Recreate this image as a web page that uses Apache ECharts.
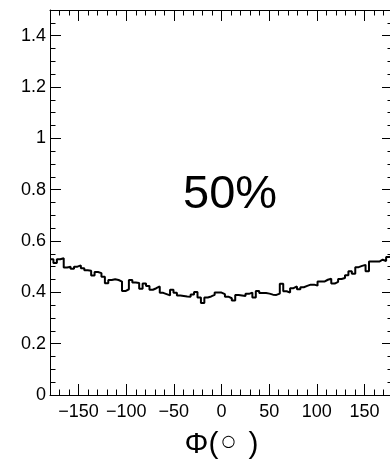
<!DOCTYPE html>
<html>
<head>
<meta charset="utf-8">
<script src="https://cdn.jsdelivr.net/npm/echarts@6/dist/echarts.min.js"></script>
<style>html,body{margin:0;padding:0;background:#fff;}#c{width:390px;height:464px;}</style>
</head>
<body>
<div id="c"></div>
<script>
const phiMin = -180;
const phiMax = 180;
const yMin = 0;
const yMax = 1.5;
const counts = [
  0.529, 0.514, 0.529, 0.533, 0.497, 0.500, 0.492, 0.500, 0.505, 0.494,
  0.486, 0.484, 0.466, 0.479, 0.475, 0.461, 0.435, 0.448, 0.451, 0.448,
  0.442, 0.405, 0.412, 0.448, 0.438, 0.436, 0.414, 0.434, 0.425, 0.410,
  0.416, 0.423, 0.398, 0.393, 0.388, 0.410, 0.398, 0.388, 0.386, 0.384,
  0.383, 0.392, 0.401, 0.380, 0.358, 0.380, 0.384, 0.390, 0.399, 0.399,
  0.393, 0.383, 0.377, 0.368, 0.390, 0.388, 0.386, 0.394, 0.399, 0.380,
  0.405, 0.397, 0.397, 0.395, 0.391, 0.390, 0.395, 0.433, 0.404, 0.399,
  0.416, 0.423, 0.412, 0.420, 0.425, 0.430, 0.430, 0.426, 0.442, 0.442,
  0.449, 0.453, 0.434, 0.441, 0.452, 0.456, 0.467, 0.482, 0.472, 0.498,
  0.503, 0.507, 0.482, 0.520, 0.520, 0.520, 0.527, 0.522, 0.538, 0.543
];
const xMajorTicks = [-150, -100, -50, 0, 50, 100, 150];
const yMajorTicks = [0, 0.2, 0.4, 0.6, 0.8, 1, 1.2, 1.4];
const xMinorStep = 10;
const yMinorStep = 0.05;
const xTitle = '{a|Φ(}{b|○}{a|)}';
const panelText = '50%';

const binWidth = (phiMax - phiMin) / counts.length;
const stepData = counts.map((v, i) => [phiMin + i * binWidth, v]);
stepData.push([phiMax, counts[counts.length - 1]]);

const FONT = 'Liberation Sans, Arial, Helvetica, sans-serif';
const black = '#000';

function xAxisDef(position, minor, withLabels) {
  const a = {
    type: 'value', position: position, min: phiMin, max: phiMax,
    splitLine: {show: false},
    axisLine: {show: !minor, onZero: false, lineStyle: {color: black, width: 1}},
    axisTick: {show: true, inside: true, length: minor ? 5.5 : 11, lineStyle: {color: black, width: 1}},
    axisLabel: {show: false}
  };
  if (minor) {
    a.interval = xMinorStep;
  } else {
    a.axisTick.customValues = xMajorTicks;
    a.interval = 10;
  }
  if (withLabels) {
    a.axisLabel = {show: true, customValues: xMajorTicks, color: black, fontSize: 18, fontFamily: FONT, margin: 8,
      formatter: v => (v < 0 ? '\u2212' + Math.abs(v) : String(v))};
    a.name = xTitle;
    a.nameLocation = 'middle';
    a.nameGap = 35;
    a.nameTextStyle = {color: black, fontSize: 30, fontFamily: FONT,
      rich: {a: {fontSize: 30, fontFamily: FONT, color: black},
             b: {fontSize: 16, fontFamily: 'DejaVu Sans', color: black, padding: [0, 13, 6, 3]}}};
  }
  return a;
}
function yAxisDef(position, minor, withLabels) {
  const a = {
    type: 'value', position: position, min: yMin, max: yMax,
    splitLine: {show: false},
    axisLine: {show: !minor, onZero: false, lineStyle: {color: black, width: 1}},
    axisTick: {show: true, inside: true, length: minor ? 5.5 : 11, lineStyle: {color: black, width: 1}},
    axisLabel: {show: false}
  };
  if (minor) {
    a.interval = yMinorStep;
  } else {
    a.axisTick.customValues = yMajorTicks;
    a.interval = 0.1;
  }
  if (withLabels) {
    a.axisLabel = {show: true, customValues: yMajorTicks, color: black, fontSize: 18, fontFamily: FONT, margin: 4};
  }
  return a;
}

const chart = echarts.init(document.getElementById('c'), null, {renderer: 'canvas'});
chart.setOption({
  animation: false,
  backgroundColor: '#fff',
  grid: {left: 50, top: 10, width: 343, height: 385, containLabel: false, outerBoundsMode: 'none'},
  xAxis: [
    xAxisDef('bottom', false, true),
    xAxisDef('bottom', true, false),
    xAxisDef('top', false, false),
    xAxisDef('top', true, false)
  ],
  yAxis: [
    yAxisDef('left', false, true),
    yAxisDef('left', true, false),
    yAxisDef('right', false, false),
    yAxisDef('right', true, false)
  ],
  graphic: [{
    type: 'text', left: 183, top: 172,
    style: {text: panelText, font: '47px ' + FONT, fill: black}
  }],
  series: [{
    type: 'line', step: 'end', xAxisIndex: 0, yAxisIndex: 0,
    data: stepData, symbol: 'none', showSymbol: false,
    lineStyle: {color: black, width: 2}
  }]
});
</script>
</body>
</html>
